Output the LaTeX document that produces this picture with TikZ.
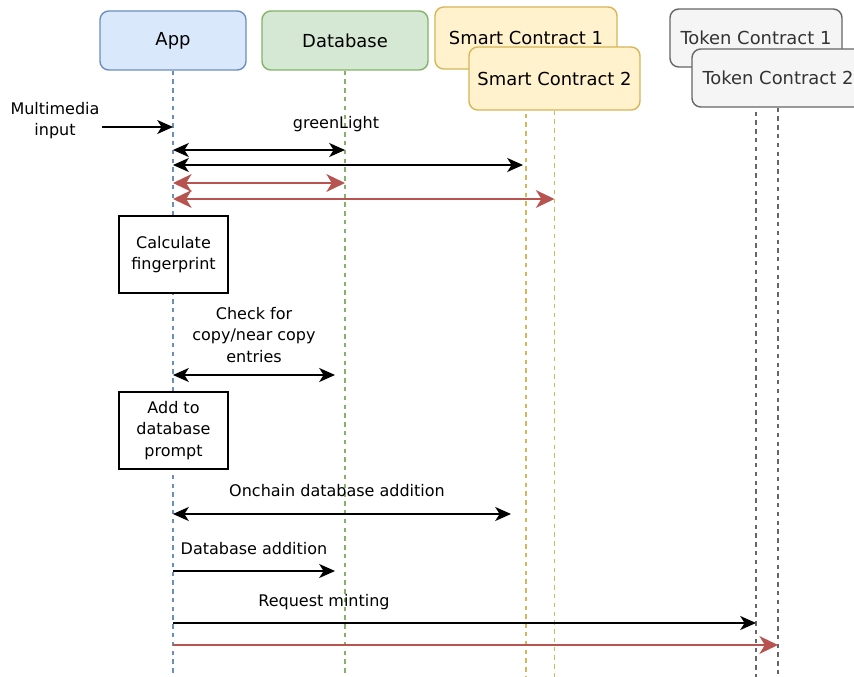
\documentclass[tikz,border=0pt]{standalone}
\usepackage{fontspec}
\setmainfont{DejaVu Sans}
\usepackage{xcolor}
\usepackage{tikz}
\usetikzlibrary{arrows.meta,backgrounds}
\definecolor{appfill}{HTML}{dae8fc}
\definecolor{appline}{HTML}{6c8ebf}
\definecolor{dbfill}{HTML}{d5e8d4}
\definecolor{dbline}{HTML}{82b366}
\definecolor{scfill}{HTML}{fff2cc}
\definecolor{scline}{HTML}{d6b656}
\definecolor{tokfill}{HTML}{f5f5f5}
\definecolor{tokline}{HTML}{666666}
\definecolor{replycolor}{HTML}{b85450}
\tikzset{
  head/.style={draw, rounded corners=5pt, line width=0.8pt, font=\fontsize{10.2}{12}\selectfont},
  lifeline/.style={line width=0.65pt, dash pattern=on 2.5pt off 2.5pt},
  taskbox/.style={draw, line width=0.7pt, minimum width=2.18cm, minimum height=1.54cm, align=center, font=\fontsize{9.1}{12}\selectfont},
  msglabel/.style={align=center, font=\fontsize{9.1}{12}\selectfont},
  blacktip/.tip={Stealth[length=9pt, width=8pt, inset=2.5pt]},
  redtip/.tip={Stealth[length=10.5pt, width=10pt, inset=3pt]},
  call/.style={line width=0.75pt, -blacktip},
  both/.style={line width=0.75pt, blacktip-blacktip},
  redcall/.style={line width=1.4pt, replycolor, -redtip},
  redboth/.style={line width=1.4pt, replycolor, redtip-redtip},
}

\begin{document}
\begin{tikzpicture}%
\useasboundingbox (0,0) rectangle (17.08,-13.54);%
% participants
\node[head, fill=appfill, draw=appline, minimum width=2.92cm, minimum height=1.18cm] (app) at (3.46,-0.81) {App};%
\node[head, fill=dbfill, draw=dbline, minimum width=3.32cm, minimum height=1.18cm] (db) at (6.90,-0.81) {Database};%
\node[head, fill=scfill, draw=scline, minimum width=3.64cm, minimum height=1.24cm] (sc1) at (10.52,-0.76) {Smart Contract 1};%
\node[head, fill=scfill, draw=scline, minimum width=3.42cm, minimum height=1.26cm] (sc2) at (11.09,-1.57) {Smart Contract 2};%
\node[head, fill=tokfill, draw=tokline, text=black!80, minimum width=3.44cm, minimum height=1.16cm] (tok1) at (15.12,-0.76) {Token Contract 1};%
\node[head, fill=tokfill, draw=tokline, text=black!80, minimum width=3.44cm, minimum height=1.16cm] (tok2) at (15.56,-1.56) {Token Contract 2};%
% lifelines
\coordinate (bottom) at (0,-13.54);%
\begin{scope}[on background layer]%
\draw[lifeline, appline] (app.south) -- (app |- bottom);%
\draw[lifeline, dbline] (db.south) -- (db |- bottom);%
\draw[lifeline, scline] (sc1.south) -- (sc1 |- bottom);%
\draw[lifeline, scline] (sc2.south) -- (sc2 |- bottom);%
\draw[lifeline, tokline] (tok1.south) -- (tok1 |- bottom);%
\draw[lifeline, tokline] (tok2.south) -- (tok2 |- bottom);%
\end{scope}%
% rows
\coordinate (inp) at (2.04,-2.54);%
\coordinate (r1) at (0,-3.00);%
\coordinate (r2) at (0,-3.30);%
\coordinate (r3) at (0,-3.66);%
\coordinate (r4) at (0,-3.98);%
\coordinate (r5) at (0,-7.50);%
\coordinate (r6) at (0,-10.28);%
\coordinate (r7) at (0,-11.42);%
\coordinate (r8) at (0,-12.46);%
\coordinate (r9) at (0,-12.90);%
% messages
\node[msglabel] (mminput) at (1.10,-2.42) {Multimedia\\input};%
\draw[call] (inp) -- (app |- inp);%
\node[msglabel] (greenlight) at (6.72,-2.48) {greenLight};%
\draw[both] (app |- r1) -- (db |- r1);%
\draw[both, shorten >=0.06cm] (app |- r2) -- (sc1 |- r2);%
\draw[redboth] (app |- r3) -- (db |- r3);%
\draw[redboth] (app |- r4) -- (sc2 |- r4);%
\node[taskbox, fill=white] (fingerprint) at (3.47,-5.09) {Calculate\\fingerprint};%
\node[msglabel] (checkcopy) at (5.08,-6.70) {Check for\\copy/near copy\\entries};%
\draw[both, shorten >=0.2cm] (app |- r5) -- (db |- r5);%
\node[taskbox, fill=white] (addprompt) at (3.47,-8.61) {Add to\\database\\prompt};%
\node[msglabel] (onchain) at (6.74,-9.82) {Onchain database addition};%
\draw[both, shorten >=0.3cm] (app |- r6) -- (sc1 |- r6);%
\node[msglabel] (dbadd) at (5.08,-10.98) {Database addition};%
\draw[call, shorten >=0.2cm] (app |- r7) -- (db |- r7);%
\node[msglabel] (mint) at (6.48,-12.04) {Request minting};%
\draw[call] (app |- r8) -- (tok1 |- r8);%
\draw[redcall] (app |- r9) -- (tok2 |- r9);%
\end{tikzpicture}
\end{document}
